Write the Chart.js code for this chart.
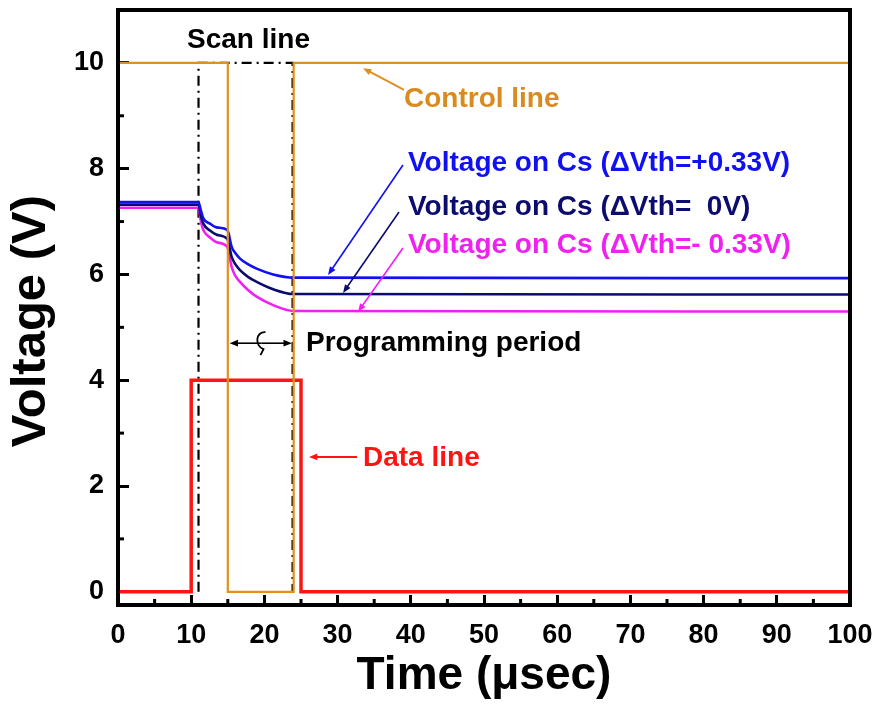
<!DOCTYPE html>
<html><head><meta charset="utf-8">
<script src="https://cdn.jsdelivr.net/npm/chart.js@4"></script>
<style>html,body{margin:0;padding:0;background:#fff}</style>
</head><body>
<canvas id="c" width="884" height="706"></canvas>
<script>
// ---- data ----
const timeCs  = [0, 11, 11.3, 11.66, 12.57, 13.48, 14.94, 15.1, 15.53, 16, 16.67, 17.8, 18.94, 21.2, 23.95, 100];
const csPlus  = [7.37, 7.37, 7.22, 7.06, 6.96, 6.89, 6.84, 6.78, 6.52, 6.41, 6.30, 6.19, 6.11, 6.00, 5.94, 5.93];
const csZero  = [7.32, 7.32, 7.12, 6.96, 6.83, 6.75, 6.67, 6.60, 6.33, 6.20, 6.08, 5.95, 5.86, 5.72, 5.63, 5.62];
const csMinus = [7.26, 7.26, 7.02, 6.84, 6.70, 6.61, 6.52, 6.44, 6.14, 5.98, 5.86, 5.70, 5.58, 5.42, 5.31, 5.30];
const controlTime = [0, 15, 15, 24, 24, 100];
const controlV    = [10, 10, 0, 0, 10, 10];
const dataTime    = [0, 10, 10, 25, 25, 100];
const dataV       = [0, 0, 4, 4, 0, 0];
const scanTime    = [11, 11, 23.85, 23.85];
const scanV       = [0, 10, 10, 0];
const xTicks = [0, 10, 20, 30, 40, 50, 60, 70, 80, 90, 100];
const yTicks = [0, 2, 4, 6, 8, 10];
const xMinor = [5, 15, 25, 35, 45, 55, 65, 75, 85, 95];
const yMinor = [1, 3, 5, 7, 9];

const FONT = '"Liberation Sans", Arial, Helvetica, sans-serif';
const C_ORANGE = '#E0901E', C_BLUE = '#1010F0', C_NAVY = '#0C0C6E', C_MAG = '#F020F0', C_RED = '#FF1414';

const pts = (xs, ys) => xs.map((v, i) => ({x: v, y: ys[i]}));

// annotation layout (in data units)
const notes = [
  {text: 'Scan line', x: 9.43, y: 10.43, color: '#000'},
  {text: 'Control line', x: 39.07, y: 9.32, color: '#D98B1F'},
  {text: 'Voltage on Cs (\u0394Vth=+0.33V)', x: 39.62, y: 8.107, color: C_BLUE},
  {text: 'Voltage on Cs (\u0394Vth=  0V)', x: 39.62, y: 7.275, color: C_NAVY},
  {text: 'Voltage on Cs (\u0394Vth=- 0.33V)', x: 39.62, y: 6.557, color: C_MAG},
  {text: 'Programming period', x: 25.68, y: 4.70, color: '#000'},
  {text: 'Data line', x: 33.47, y: 2.53, color: C_RED}
];
const arrows = [
  {from: [39.07, 9.49], to: [33.47, 9.90], color: C_ORANGE, w: 2},
  {from: [38.93, 8.07], to: [28.69, 5.99], color: C_BLUE, w: 1.6},
  {from: [38.39, 7.18], to: [30.74, 5.65], color: C_NAVY, w: 1.6},
  {from: [38.93, 6.50], to: [32.79, 5.29], color: C_MAG, w: 1.6},
  {from: [32.65, 2.55], to: [26.09, 2.55], color: C_RED, w: 2},
  {from: [19.6, 4.70], to: [15.25, 4.70], color: '#000', w: 1.6},
  {from: [19.6, 4.70], to: [23.75, 4.70], color: '#000', w: 1.6}
];

function arrow(ctx, x1, y1, x2, y2, color, w) {
  const ang = Math.atan2(y2 - y1, x2 - x1), h = 9, s = 0.38;
  ctx.strokeStyle = color; ctx.fillStyle = color; ctx.lineWidth = w;
  ctx.beginPath(); ctx.moveTo(x1, y1);
  ctx.lineTo(x2 - Math.cos(ang) * h * 0.6, y2 - Math.sin(ang) * h * 0.6); ctx.stroke();
  ctx.beginPath(); ctx.moveTo(x2, y2);
  ctx.lineTo(x2 - h * Math.cos(ang - s), y2 - h * Math.sin(ang - s));
  ctx.lineTo(x2 - h * Math.cos(ang + s), y2 - h * Math.sin(ang + s));
  ctx.closePath(); ctx.fill();
}

const overlay = {
  id: 'overlay',
  afterDatasetsDraw(chart) {
    const {ctx, chartArea: a, scales: {x, y}} = chart;
    const X = v => x.getPixelForValue(v), Y = v => y.getPixelForValue(v);
    ctx.save();
    // minor ticks
    ctx.strokeStyle = '#000'; ctx.lineWidth = 3;
    xMinor.forEach(v => { ctx.beginPath(); ctx.moveTo(X(v), a.bottom); ctx.lineTo(X(v), a.bottom - 6); ctx.stroke(); });
    yMinor.forEach(v => { ctx.beginPath(); ctx.moveTo(a.left, Y(v)); ctx.lineTo(a.left + 6, Y(v)); ctx.stroke(); });
    // frame
    ctx.lineWidth = 4;
    ctx.strokeRect(a.left, a.top, a.right - a.left, a.bottom - a.top);
    // arrows
    arrows.forEach(r => arrow(ctx, X(r.from[0]), Y(r.from[1]), X(r.to[0]), Y(r.to[1]), r.color, r.w));
    // curl symbol on the programming-period arrow
    const cx = X(19.6), cy = Y(4.70);
    ctx.strokeStyle = '#000'; ctx.lineWidth = 1.8;
    ctx.beginPath();
    ctx.moveTo(cx + 4, cy - 11);
    ctx.bezierCurveTo(cx - 6, cy - 12, cx - 7, cy + 3, cx + 2, cy + 6);
    ctx.lineTo(cx - 1, cy + 12);
    ctx.stroke();
    // texts
    ctx.font = 'bold 28px ' + FONT;
    ctx.textAlign = 'left'; ctx.textBaseline = 'middle';
    notes.forEach(n => { ctx.fillStyle = n.color; ctx.fillText(n.text, X(n.x), Y(n.y)); });
    ctx.restore();
  }
};

new Chart(document.getElementById('c'), {
  type: 'line',
  data: {
    datasets: [
      {label: 'Control line', data: pts(controlTime, controlV), borderColor: C_ORANGE, borderWidth: 2.2, order: 0},
      {label: 'Data line', data: pts(dataTime, dataV), borderColor: C_RED, borderWidth: 3.5, order: 1},
      {label: 'Voltage on Cs (\u0394Vth=+0.33V)', data: pts(timeCs, csPlus), borderColor: C_BLUE, borderWidth: 2.6, cubicInterpolationMode: 'monotone', order: 2},
      {label: 'Voltage on Cs (\u0394Vth=0V)', data: pts(timeCs, csZero), borderColor: C_NAVY, borderWidth: 2.6, cubicInterpolationMode: 'monotone', order: 3},
      {label: 'Voltage on Cs (\u0394Vth=-0.33V)', data: pts(timeCs, csMinus), borderColor: C_MAG, borderWidth: 2.6, cubicInterpolationMode: 'monotone', order: 4},
      {label: 'Scan line', data: pts(scanTime, scanV), borderColor: '#000', borderWidth: 2.2, borderDash: [10, 5, 2, 5], order: 5}
    ]
  },
  options: {
    responsive: false,
    animation: false,
    elements: {point: {radius: 0, hoverRadius: 0}, line: {tension: 0, fill: false}},
    layout: {padding: {left: 0, right: 34, top: 10, bottom: 0}},
    plugins: {legend: {display: false}, tooltip: {enabled: false}},
    scales: {
      x: {
        type: 'linear', min: 0, max: 100,
        afterBuildTicks: s => { s.ticks = xTicks.map(v => ({value: v})); },
        afterFit: s => { s.height = 101; s.paddingLeft = 0; s.paddingRight = 0; },
        border: {display: false},
        grid: {drawOnChartArea: false, tickLength: -10, tickColor: '#000', tickWidth: 3},
        ticks: {padding: 24, color: '#000', font: {family: FONT, size: 27, weight: 'bold'}, maxRotation: 0},
        title: {display: true, text: 'Time (\u03BCsec)', color: '#000', font: {family: FONT, size: 46, weight: 'bold'}, padding: {top: 0, bottom: 2}}
      },
      y: {
        type: 'linear', min: -0.25, max: 11,
        afterBuildTicks: s => { s.ticks = yTicks.map(v => ({value: v})); },
        afterFit: s => { s.width = 118; s.paddingTop = 0; s.paddingBottom = 0; },
        border: {display: false},
        grid: {drawOnChartArea: false, tickLength: -11, tickColor: '#000', tickWidth: 3},
        ticks: {padding: 25, color: '#000', font: {family: FONT, size: 27, weight: 'bold'}},
        title: {display: true, text: 'Voltage (V)\u00A0\u00A0', color: '#000', font: {family: FONT, size: 49, weight: 'bold'}, padding: {top: 2, bottom: 0}}
      }
    }
  },
  plugins: [overlay]
});
</script>
</body></html>
